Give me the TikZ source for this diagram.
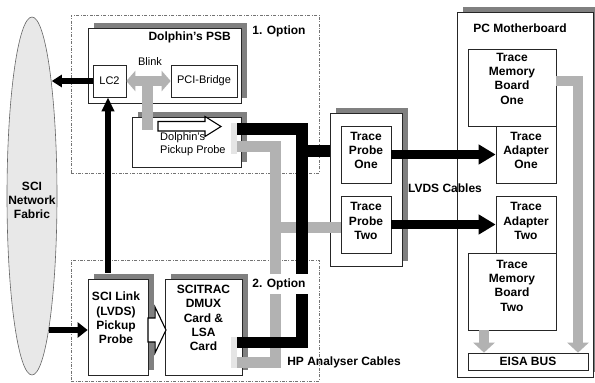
\documentclass[tikz,border=0pt]{standalone}
\usepackage{fontspec}
\setmainfont{Liberation Sans}
\usetikzlibrary{arrows.meta,shadows,calc,shapes.geometric}

\begin{document}
\begin{tikzpicture}[x=1pt,y=-1pt,
  box/.style={draw=black!85, line width=0.7pt, fill=white, inner sep=0pt},
  shad/.style={drop shadow={shadow xshift=5.5pt, shadow yshift=5.5pt, opacity=1, fill=black!50}},
  optframe/.style={draw=black!55, line width=0.5pt, dash pattern=on 3pt off 1.5pt on 0.8pt off 1.5pt, inner sep=0pt},
  btxt/.style={font=\fontsize{12}{14.3}\selectfont\bfseries, align=center, inner sep=0pt},
  rtxt/.style={font=\fontsize{11}{13}\selectfont, inner sep=0pt},
  stub/.style={fill=black!10, inner sep=0pt},
  blackcable/.style={line width=11.5pt, black, line join=miter},
  graycable/.style={line width=11pt, black!30, line join=miter},
  bigarrow/.style={line width=9pt, black, -{Triangle[length=17pt,width=19pt]}},
  linkarrow/.style={line width=5.5pt, black, -{Triangle[length=10pt,width=12pt]}},
  grayarrow/.style={line width=10pt, black!30, line join=miter, -{Triangle[length=10pt,width=21pt]}},
  blockarrow/.style={draw=black, line width=1.1pt, fill=white, line join=miter}
]
\useasboundingbox (0,0) rectangle (595,383);

% option frames
\node[optframe, minimum width=248pt, minimum height=158pt] (opt1) at (195,94) {};
\node[optframe, minimum width=248pt, minimum height=121pt] (opt2) at (195,320.5) {};

% SCI network fabric
\node[draw=black!60, line width=0.6pt, fill=black!9, ellipse, minimum width=50pt, minimum height=358pt, inner sep=0pt] (sci) at (32,196) {};
\node[btxt] at (32,200.5) {SCI\\Network\\Fabric};

% Dolphin's PSB
\node[box, shad, minimum width=153pt, minimum height=75pt] (psb) at (164.5,65.5) {};
\node[box, rtxt, minimum width=33pt, minimum height=32pt] (lc2) at (109.5,81) {LC2};
\node[box, rtxt, minimum width=66pt, minimum height=32pt] (pci) at (204,81) {PCI-Bridge};
\node[box, shad, minimum width=109pt, minimum height=50pt] (pickup) at (186.5,142) {};

% trace probes
\node[box, shad, minimum width=72pt, minimum height=153pt] (tpout) at (366,189.5) {};
\node[box, minimum width=50pt, minimum height=57pt] (tp1) at (366,154.5) {};
\node[box, minimum width=50pt, minimum height=57pt] (tp2) at (366,224.5) {};

% PC motherboard
\node[box, shad, minimum width=136pt, minimum height=365pt] (mb) at (525,194.5) {};
\node[box, minimum width=88pt, minimum height=77pt] (tmb1) at (512,87.5) {};
\node[box, minimum width=60pt, minimum height=57pt] (ta1) at (526,154.5) {};
\node[box, minimum width=60pt, minimum height=57pt] (ta2) at (526,224.5) {};
\node[box, minimum width=88pt, minimum height=77pt] (tmb2) at (512,291.5) {};
\node[box, btxt, minimum width=120pt, minimum height=17pt] (eisa) at (528,361.5) {EISA BUS};

% option 2 cards
\node[box, shad, minimum width=60pt, minimum height=96pt] (scilink) at (118,327) {};
\node[box, shad, minimum width=77pt, minimum height=96pt] (scitrac) at (203.5,327) {};

% box texts
\node[btxt] at ($(tmb1)+(0,-9)$) {Trace\\Memory\\Board\\One};
\node[btxt] at ($(ta1)+(0,-4)$) {Trace\\Adapter\\One};
\node[btxt] at ($(tp1)+(0,-4)$) {Trace\\Probe\\One};
\node[btxt] at ($(ta2)+(0,-3.5)$) {Trace\\Adapter\\Two};
\node[btxt] at ($(tp2)+(0,-3.5)$) {Trace\\Probe\\Two};
\node[btxt] at ($(tmb2)+(0,-6)$) {Trace\\Memory\\Board\\Two};
\node[btxt] at ($(scilink)+(-2,-9)$) {SCI Link\\(LVDS)\\Pickup\\Probe};
\node[btxt] at ($(scitrac)+(0,-9)$) {SCITRAC\\DMUX\\Card \&\\LSA\\Card};

% Blink link between LC2 and PCI bridge, with its tap to the pickup probe
\coordinate (stemtop) at (147.5,82);
\coordinate (stemend) at (147.5,130);
\draw[line width=11pt, black!30] (stemtop) -- (stemend);
\draw[line width=10pt, black!30, {Triangle[length=9pt,width=20pt]}-{Triangle[length=9pt,width=20pt]}] (lc2.east) -- (pci.west);
\node[rtxt] at (150,62) {Blink};

% pickup probe arrow and text
\draw[blockarrow] (158,121.5) -- (205,121.5) -- (205,116.5) -- (221,126.5) -- (205,136.5) -- (205,131) -- (158,131) -- cycle;
\node[rtxt, align=left, anchor=west] at (160,144.5) {Dolphin's\\Pickup Probe};

% connector stubs
\node[stub, minimum width=6pt, minimum height=31pt] (stubA) at (234,138.5) {};
\node[stub, minimum width=6pt, minimum height=31pt] (stubB) at (234,352.5) {};

% analyser cables (grey)
\coordinate (gy1) at (237,146.5);
\coordinate (gy2) at (275.5,146.5);
\coordinate (gy3) at (275.5,362.5);
\coordinate (gy4) at (237,362.5);
\coordinate (gyT) at (275.5,227.5);
\draw[graycable] (gy1) -- (gy2) -- (gy3) -- (gy4);
\draw[graycable] (gyT) -- (gyT -| tp2.west);

% analyser cables (black)
\coordinate (bk1) at (237,129);
\coordinate (bk2) at (302,129);
\coordinate (bk3) at (302,342.5);
\coordinate (bk4) at (237,342.5);
\coordinate (bkT) at (302,151);
\draw[blackcable] (bk1) -- (bk2) -- (bk3) -- (bk4);
\draw[blackcable] (bkT) -- (bkT -| tpout.west);

% SCI links
\draw[linkarrow] (lc2.west) -- (lc2.west -| sci.80);
\draw[linkarrow, -{Triangle[length=14pt,width=12pt]}] ($(lc2.south |- scilink.north)+(-1.5,-6)$) -- ($(lc2.south)+(-1.5,0)$);
\draw[linkarrow, -{Triangle[length=10pt,width=15pt]}] ($(sci.-83 |- scilink.west)+(0,3)$) -- ($(scilink.west)+(0,3)$);
\draw[blockarrow] (148,318) -- (155,318) -- (155,307) -- (166,330) -- (155,353) -- (155,342) -- (148,342) -- cycle;

% LVDS cables
\draw[bigarrow] (tp1.east) -- (ta1.west);
\draw[bigarrow] (tp2.east) -- (ta2.west);

% memory boards to EISA bus
\coordinate (mA) at (556,80.5);
\coordinate (mB) at (578,80.5);
\coordinate (mC) at (484,330);
\draw[grayarrow] (mA) -- (mB) -- (mB |- eisa.north);
\draw[grayarrow] (mC) -- (mC |- eisa.north);

% labels
\node[btxt] at (279,31) {1. Option};
\node[btxt, anchor=east] at (231,37) {Dolphin's PSB};
\node[btxt] at (520,28) {PC Motherboard};
\node[btxt] at (445,188) {LVDS Cables};
\node[btxt] at (344,362) {HP Analyser Cables};
\node[btxt, fill=white, inner xsep=3pt, inner ysep=4pt] at (279,284) {2. Option};
\end{tikzpicture}
\end{document}
